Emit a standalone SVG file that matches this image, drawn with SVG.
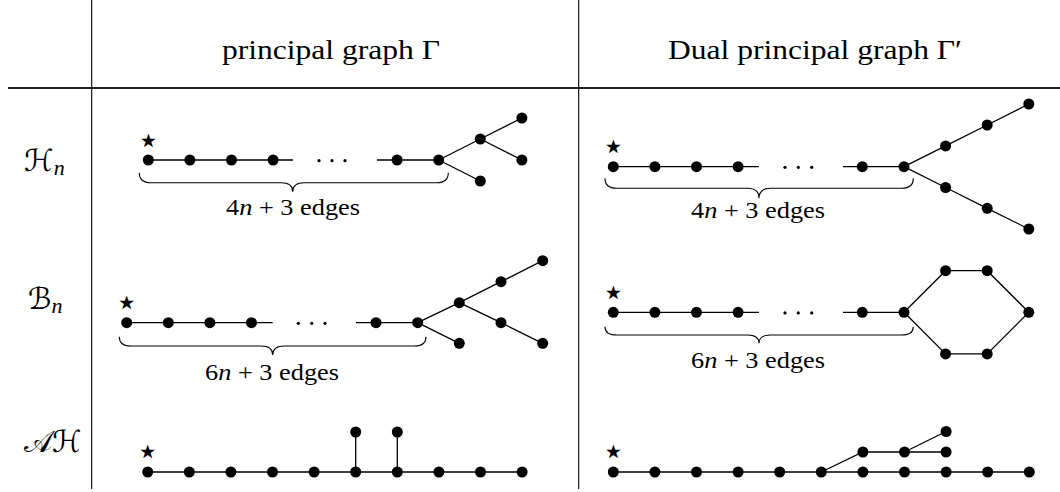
<svg xmlns="http://www.w3.org/2000/svg" width="1060" height="492" viewBox="0 0 1060 492">
<style>
.rule{stroke:#000;stroke-width:1.1;fill:none}
.e{stroke:#000;stroke-width:1.3;fill:none}
.br{stroke:#000;stroke-width:1.1;fill:none}
.n{fill:#000}
.d{fill:#000}
text{font-family:"Liberation Serif","Times New Roman","DejaVu Serif",serif;fill:#000}
.h{font-size:28px}
.lab{font-size:23px}
.st{font-family:"DejaVu Sans",sans-serif;font-size:38px;text-anchor:middle}
.rl{font-family:"DejaVu Sans",serif;font-size:30px}
.sub{font-family:"Liberation Serif","DejaVu Serif",serif;font-style:italic;font-size:22px}
</style>
<rect width="1060" height="492" fill="#fff"/>
<g id="table">
<line class="rule" x1="91.7" y1="0" x2="91.7" y2="489"/>
<line class="rule" x1="578.7" y1="0" x2="578.7" y2="489"/>
<line x1="8" y1="88" x2="1060" y2="88" stroke="#222" stroke-width="2"/>
<text class="h" x="222" y="59" textLength="218" lengthAdjust="spacingAndGlyphs">principal graph Γ</text>
<text class="h" x="668" y="59" textLength="294" lengthAdjust="spacingAndGlyphs">Dual principal graph Γ′</text>
</g>
<g id="rowlabels">
<text class="rl" x="24" y="171">ℋ<tspan class="sub" dy="4">n</tspan></text>
<text class="rl" x="28" y="309">ℬ<tspan class="sub" dy="4">n</tspan></text>
<text class="rl" x="24" y="452">𝒜ℋ</text>
</g>
<g id="connectors">
<path class="e" d="M148.3,160H293M377,160H438.7M438.7,160L480.3,139L521.9,118M480.3,139L521.9,160M438.7,160L480.3,181"/>
<path class="e" d="M613.3,166.7H759M843,166.7H904M904,166.7L945.6,145.9L987.2,125L1028.8,104M904,166.7L945.6,187.5L987.2,208.3L1028.8,229"/>
<path class="e" d="M126.7,322.7H272.7M356,322.7H417.7M417.7,322.7L459.3,302.7L501,281.7L542.7,260.7M459.3,302.7L501,322.7L542.7,343.3M417.7,322.7L459.3,343.3"/>
<path class="e" d="M613.3,312.3H759M843,312.3H904M904,312.3L945.6,270.7H987.2L1028.8,312.3L987.2,353.9H945.6Z"/>
<path class="e" d="M147.7,472H522.1M355.7,472V432M397.3,472V432"/>
<path class="e" d="M613.3,472H1029.3M821.3,472L862.9,452H946.1M904.5,452L946.1,431.5"/>
<path class="br" d="M139.3,172.7Q139.3,182.7 151,182.7L281,182.7Q292.7,182.7 292.7,191.7Q292.7,182.7 304.4,182.7L436.6,182.7Q448.3,182.7 448.3,172.7"/>
<path class="br" d="M605,178.3Q605,188.3 616.7,188.3L747.3,188.3Q759,188.3 759,198.3Q759,188.3 770.7,188.3L901.6,188.3Q913.3,188.3 913.3,178.3"/>
<path class="br" d="M119.3,336.7Q119.3,346 131,346L261,346Q272.7,346 272.7,355Q272.7,346 284.4,346L414.3,346Q426,346 426,336.7"/>
<path class="br" d="M605,326.7Q605,335 616.7,335L747.3,335Q759,335 759,343.3Q759,335 770.7,335L901.6,335Q913.3,335 913.3,326.7"/>
</g>
<g id="H-left">
<circle class="n" cx="148.3" cy="160" r="5.5"/><circle class="n" cx="189.9" cy="160" r="5.5"/><circle class="n" cx="231.5" cy="160" r="5.5"/><circle class="n" cx="273.1" cy="160" r="5.5"/>
<circle class="n" cx="397.1" cy="160" r="5.5"/><circle class="n" cx="438.7" cy="160" r="5.5"/>
<circle class="n" cx="480.3" cy="139" r="5.5"/><circle class="n" cx="521.9" cy="118" r="5.5"/><circle class="n" cx="521.9" cy="160" r="5.5"/><circle class="n" cx="480.3" cy="181" r="5.5"/>
<circle class="d" cx="319" cy="160.7" r="1.6"/><circle class="d" cx="332" cy="160.7" r="1.6"/><circle class="d" cx="345" cy="160.7" r="1.6"/>
<text class="st" x="148.3" y="153">⋆</text>
<text class="lab" x="226" y="215" textLength="134" lengthAdjust="spacingAndGlyphs">4<tspan font-style="italic">n</tspan> + 3 edges</text>
</g>
<g id="H-right">
<circle class="n" cx="613.3" cy="166.7" r="5.5"/><circle class="n" cx="654.9" cy="166.7" r="5.5"/><circle class="n" cx="696.5" cy="166.7" r="5.5"/><circle class="n" cx="738.1" cy="166.7" r="5.5"/>
<circle class="n" cx="862.3" cy="166.7" r="5.5"/><circle class="n" cx="904" cy="166.7" r="5.5"/>
<circle class="n" cx="945.6" cy="145.9" r="5.5"/><circle class="n" cx="987.2" cy="125" r="5.5"/><circle class="n" cx="1028.8" cy="104" r="5.5"/>
<circle class="n" cx="945.6" cy="187.5" r="5.5"/><circle class="n" cx="987.2" cy="208.3" r="5.5"/><circle class="n" cx="1028.8" cy="229" r="5.5"/>
<circle class="d" cx="785" cy="167.3" r="1.6"/><circle class="d" cx="798.3" cy="167.3" r="1.6"/><circle class="d" cx="811.7" cy="167.3" r="1.6"/>
<text class="st" x="613.3" y="159">⋆</text>
<text class="lab" x="691" y="218" textLength="134" lengthAdjust="spacingAndGlyphs">4<tspan font-style="italic">n</tspan> + 3 edges</text>
</g>
<g id="B-left">
<circle class="n" cx="126.7" cy="322.7" r="5.5"/><circle class="n" cx="168.3" cy="322.7" r="5.5"/><circle class="n" cx="209.9" cy="322.7" r="5.5"/><circle class="n" cx="251.5" cy="322.7" r="5.5"/>
<circle class="n" cx="376" cy="322.7" r="5.5"/><circle class="n" cx="417.7" cy="322.7" r="5.5"/>
<circle class="n" cx="459.3" cy="302.7" r="5.5"/><circle class="n" cx="501" cy="281.7" r="5.5"/><circle class="n" cx="542.7" cy="260.7" r="5.5"/>
<circle class="n" cx="501" cy="322.7" r="5.5"/><circle class="n" cx="542.7" cy="343.3" r="5.5"/><circle class="n" cx="459.3" cy="343.3" r="5.5"/>
<circle class="d" cx="298.3" cy="323.3" r="1.6"/><circle class="d" cx="311.7" cy="323.3" r="1.6"/><circle class="d" cx="325" cy="323.3" r="1.6"/>
<text class="st" x="126.7" y="315">⋆</text>
<text class="lab" x="205" y="380" textLength="134" lengthAdjust="spacingAndGlyphs">6<tspan font-style="italic">n</tspan> + 3 edges</text>
</g>
<g id="B-right">
<circle class="n" cx="613.3" cy="312.3" r="5.5"/><circle class="n" cx="654.9" cy="312.3" r="5.5"/><circle class="n" cx="696.5" cy="312.3" r="5.5"/><circle class="n" cx="738.1" cy="312.3" r="5.5"/>
<circle class="n" cx="862.3" cy="312.3" r="5.5"/><circle class="n" cx="904" cy="312.3" r="5.5"/>
<circle class="n" cx="945.6" cy="270.7" r="5.5"/><circle class="n" cx="987.2" cy="270.7" r="5.5"/><circle class="n" cx="1028.8" cy="312.3" r="5.5"/>
<circle class="n" cx="987.2" cy="353.9" r="5.5"/><circle class="n" cx="945.6" cy="353.9" r="5.5"/>
<circle class="d" cx="785" cy="312.9" r="1.6"/><circle class="d" cx="798.3" cy="312.9" r="1.6"/><circle class="d" cx="811.7" cy="312.9" r="1.6"/>
<text class="st" x="613.3" y="305">⋆</text>
<text class="lab" x="691" y="368" textLength="134" lengthAdjust="spacingAndGlyphs">6<tspan font-style="italic">n</tspan> + 3 edges</text>
</g>
<g id="AH-left">
<circle class="n" cx="147.7" cy="472" r="5.5"/><circle class="n" cx="189.3" cy="472" r="5.5"/><circle class="n" cx="230.9" cy="472" r="5.5"/><circle class="n" cx="272.5" cy="472" r="5.5"/><circle class="n" cx="314.1" cy="472" r="5.5"/>
<circle class="n" cx="355.7" cy="472" r="5.5"/><circle class="n" cx="397.3" cy="472" r="5.5"/><circle class="n" cx="438.9" cy="472" r="5.5"/><circle class="n" cx="480.5" cy="472" r="5.5"/><circle class="n" cx="522.1" cy="472" r="5.5"/>
<circle class="n" cx="355.7" cy="432" r="5.5"/><circle class="n" cx="397.3" cy="432" r="5.5"/>
<text class="st" x="147.7" y="464">⋆</text>
</g>
<g id="AH-right">
<circle class="n" cx="613.3" cy="472" r="5.5"/><circle class="n" cx="654.9" cy="472" r="5.5"/><circle class="n" cx="696.5" cy="472" r="5.5"/><circle class="n" cx="738.1" cy="472" r="5.5"/><circle class="n" cx="779.7" cy="472" r="5.5"/><circle class="n" cx="821.3" cy="472" r="5.5"/>
<circle class="n" cx="862.9" cy="472" r="5.5"/><circle class="n" cx="904.5" cy="472" r="5.5"/><circle class="n" cx="946.1" cy="472" r="5.5"/><circle class="n" cx="987.7" cy="472" r="5.5"/><circle class="n" cx="1029.3" cy="472" r="5.5"/>
<circle class="n" cx="862.9" cy="452" r="5.5"/><circle class="n" cx="904.5" cy="452" r="5.5"/><circle class="n" cx="946.1" cy="452" r="5.5"/><circle class="n" cx="946.1" cy="431.5" r="5.5"/>
<text class="st" x="613.3" y="464">⋆</text>
</g>
</svg>
